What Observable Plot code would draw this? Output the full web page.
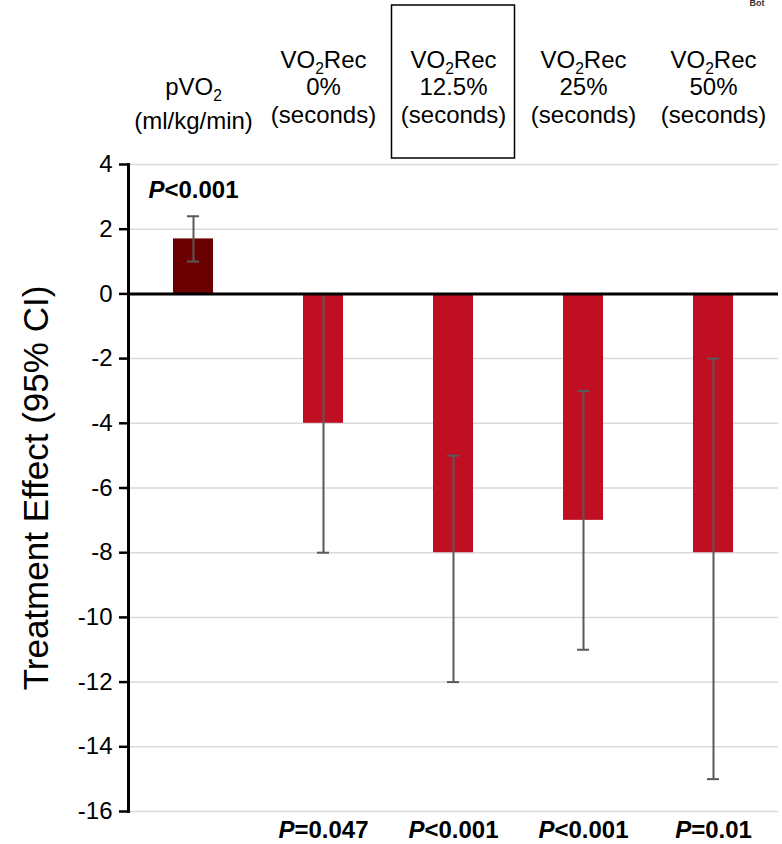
<!DOCTYPE html>
<html><head><meta charset="utf-8">
<script src="https://cdn.jsdelivr.net/npm/d3@7"></script>
<script src="https://cdn.jsdelivr.net/npm/@observablehq/plot@0.6"></script>
<style>body{margin:0;background:#fff} svg{font-family:"Liberation Sans",Arial,sans-serif}</style>
</head><body><div id="chart"></div>
<script>
const categories = ["pVO2", "rec0", "rec125", "rec25", "rec50"];
const headers = [
  "pVO₂\n(ml/kg/min)",
  "VO₂Rec\n0%\n(seconds)",
  "VO₂Rec\n12.5%\n(seconds)",
  "VO₂Rec\n25%\n(seconds)",
  "VO₂Rec\n50%\n(seconds)"
];
const effects = [1.7, -4, -8, -7, -8];
const ciLow = [1.0, -8, -12, -11, -15];
const ciHigh = [2.4, 0, -5, -3, -2];
const pValues = ["P<0.001", "P=0.047", "P<0.001", "P<0.001", "P=0.01"];
const barColors = ["#6b0000", "#c00f23", "#c00f23", "#c00f23", "#c00f23"];
const yTicks = [-16, -14, -12, -10, -8, -6, -4, -2, 0, 2, 4];
const yLabel = "Treatment Effect (95% CI)";
const boxedCategory = "rec125";

const data = categories.map((c, i) => ({
  cat: c, header: headers[i], effect: effects[i], lo: ciLow[i], hi: ciHigh[i],
  p: pValues[i], color: barColors[i]
}));
const topP = data.filter(d => d.effect > 0);
const bottomP = data.filter(d => d.effect <= 0);

const plot = Plot.plot({
  width: 782, height: 844,
  marginLeft: 128, marginRight: 4, marginTop: 164, marginBottom: 33,
  style: {fontFamily: "'Liberation Sans', Arial, sans-serif", fontSize: "24px", color: "#000", background: "#fff", overflow: "visible"},
  x: {domain: categories, padding: 0, axis: null},
  y: {domain: [-16, 4], axis: null},
  color: {type: "identity"},
  marks: [
    Plot.ruleY(yTicks.filter(t => t !== 0), {stroke: "#d9d9d9", strokeWidth: 1.5}),
    Plot.barY(data, {x: "cat", y1: 0, y2: "effect", fill: "color", insetLeft: 45, insetRight: 45}),
    Plot.ruleX(data, {x: "cat", y1: "lo", y2: "hi", stroke: "#595959", strokeWidth: 2}),
    Plot.tickY(data, {x: "cat", y: "lo", stroke: "#595959", strokeWidth: 2, insetLeft: 59, insetRight: 59}),
    Plot.tickY(data, {x: "cat", y: "hi", stroke: "#595959", strokeWidth: 2, insetLeft: 59, insetRight: 59}),
    Plot.ruleY([0], {stroke: "#000", strokeWidth: 3}),
    Plot.axisY({ticks: yTicks, tickSize: 9, strokeWidth: 2.5, stroke: "#000", strokeOpacity: 1, label: null, tickFormat: () => ""}),
    Plot.text(yTicks, {y: d => d, text: d => String(d), frameAnchor: "left", textAnchor: "end", dx: -16, fontSize: 24, fill: "#000"}),
    Plot.frame({anchor: "left", stroke: "#000", strokeWidth: 3}),
    Plot.text(data, {x: "cat", text: "header", frameAnchor: "top", lineAnchor: "bottom", dy: -42, lineHeight: 1.13, fontSize: 24, fill: "#000"}),
    Plot.text(topP, {x: "cat", text: "p", frameAnchor: "top", lineAnchor: "middle", dy: 26, fontSize: 24, fontWeight: "bold", fill: "#000"}),
    Plot.text(bottomP, {x: "cat", text: "p", frameAnchor: "bottom", lineAnchor: "middle", dy: 19, fontSize: 24, fontWeight: "bold", fill: "#000"}),
    Plot.text([yLabel], {text: d => d, frameAnchor: "left", textAnchor: "middle", rotate: -90, dx: -92, fontSize: 35, fill: "#000"})
  ]
});

// rich text: italic P, subscript 2
function enrich(node) {
  const s = node.textContent;
  if (/^P[<=]/.test(s)) {
    node.textContent = "";
    const sel = d3.select(node);
    sel.append("tspan").attr("font-style", "italic").text("P");
    sel.append("tspan").text(s.slice(1));
  } else if (s.includes("₂")) {
    const [a, b] = s.split("₂");
    node.textContent = "";
    const sel = d3.select(node);
    sel.append("tspan").text(a);
    sel.append("tspan").attr("font-size", "0.65em").attr("dy", 6).text("2");
    sel.append("tspan").attr("dy", -6).text(b);
  }
}
d3.select(plot).selectAll("text").each(function () {
  const tspans = this.querySelectorAll("tspan");
  if (tspans.length) tspans.forEach(t => enrich(t));
  else enrich(this);
});

// box around the highlighted header
const xs = plot.scale("x");
const cx = xs.apply(boxedCategory) + xs.bandwidth / 2;
d3.select(plot).append("rect")
  .attr("x", cx - 61.5).attr("y", 5).attr("width", 123).attr("height", 153)
  .attr("fill", "none").attr("stroke", "#000").attr("stroke-width", 1.5);
d3.select(plot).append("text")
  .attr("x", 757).attr("y", 6).attr("font-size", 9).attr("font-weight", "bold").attr("fill", "#333").text("Bot");

document.getElementById("chart").appendChild(plot);
</script>
</body></html>
